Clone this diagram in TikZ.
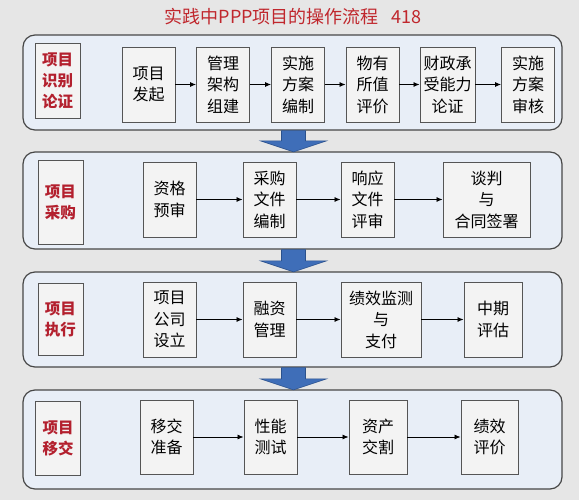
\documentclass[tikz,border=0pt]{standalone}
\usepackage{fontspec}
\newfontfamily\cjk{Noto Sans CJK SC}
\usetikzlibrary{arrows.meta,calc}
\definecolor{bg}{HTML}{E6E6E6}
\definecolor{panelfill}{HTML}{E8EEF7}
\definecolor{paneldraw}{HTML}{474747}
\definecolor{boxfill}{HTML}{F3F3F3}
\definecolor{boxdraw}{HTML}{555555}
\definecolor{labred}{HTML}{B3202E}
\definecolor{titlered}{HTML}{C0272D}
\definecolor{arrowblue}{HTML}{3F6EB8}
\definecolor{arrowedge}{HTML}{2B518C}
\tikzset{
  panel/.style={draw=paneldraw,fill=panelfill,line width=1.2pt,rounded corners=12pt,minimum width=539pt,inner sep=0pt},
  labbox/.style={draw=boxdraw,fill=boxfill,line width=0.9pt,minimum width=45pt,inner sep=0pt,align=center,text=labred,font=\cjk\bfseries\fontsize{15.5}{21}\selectfont},
  stepbox/.style={draw=boxdraw,fill=boxfill,line width=0.9pt,minimum height=75pt,inner sep=0pt,align=center,font=\cjk\fontsize{16}{21.5}\selectfont},
  flow/.style={-{Latex[length=6pt,width=5pt]},line width=0.8pt,black},
  bigarrow/.style={fill=arrowblue,draw=arrowedge,line width=0.6pt,line join=miter}
}
\begin{document}
\begin{tikzpicture}[x=1pt,y=-1pt]
\fill[bg] (0,0) rectangle (579,500);
\useasboundingbox (0,0) rectangle (579,500);

\node[text=titlered,font=\cjk\fontsize{18}{20}\selectfont] (title) at (293,17) {实践中PPP项目的操作流程\hspace{0.7em}418};

% panels
\node[panel,minimum height=95pt] (p1) at (292.5,82.5) {};
\node[panel,minimum height=97pt] (p2) at (292.5,200.5) {};
\node[panel,minimum height=95pt] (p3) at (292.5,319.5) {};
\node[panel,minimum height=99pt] (p4) at (292.5,439.5) {};

% big arrows
\foreach \a/\b in {p1/p2,p2/p3,p3/p4}{
  \draw[bigarrow] ($(\a.south)+(-11,0)$) -- ($(\b.north)+(-11,-10.5)$) -- ($(\b.north)+(-32,-10.5)$)
    -- ($(\b.north)+(1,0.5)$) -- ($(\b.north)+(34,-10.5)$) -- ($(\b.north)+(13,-10.5)$)
    -- ($(\a.south)+(13,0)$) -- cycle;
}

% panel 1
\node[labbox,minimum height=75pt] (l1) at (57.5,80.5) {项目\\识别\\论证};
\node[stepbox,minimum width=53pt] (s11) at (148.5,84.5) {项目\\发起};
\node[stepbox,minimum width=53pt] (s12) at (223,84.5) {管理\\架构\\组建};
\node[stepbox,minimum width=53pt] (s13) at (298,84.5) {实施\\方案\\编制};
\node[stepbox,minimum width=53pt] (s14) at (372.5,84.5) {物有\\所值\\评价};
\node[stepbox,minimum width=55pt] (s15) at (447.5,84.5) {财政承\\受能力\\论证};
\node[stepbox,minimum width=53pt] (s16) at (528,84.5) {实施\\方案\\审核};
\draw[flow] (s11) -- (s12);
\draw[flow] (s12) -- (s13);
\draw[flow] (s13) -- (s14);
\draw[flow] (s14) -- (s15);
\draw[flow] (s15) -- (s16);

% panel 2
\node[labbox,minimum height=84pt] (l2) at (60.5,202) {项目\\采购};
\node[stepbox,minimum width=53pt] (s21) at (169.5,199.5) {资格\\预审};
\node[stepbox,minimum width=53pt] (s22) at (269.5,199.5) {采购\\文件\\编制};
\node[stepbox,minimum width=53pt] (s23) at (367.5,199.5) {响应\\文件\\评审};
\node[stepbox,minimum width=87pt] (s24) at (486.5,199.5) {谈判\\与\\合同签署};
\draw[flow] (s21) -- (s22);
\draw[flow] (s22) -- (s23);
\draw[flow] (s23) -- (s24);

% panel 3
\node[labbox,minimum height=72pt] (l3) at (60.5,319) {项目\\执行};
\node[stepbox,minimum width=53pt] (s31) at (169.5,319.5) {项目\\公司\\设立};
\node[stepbox,minimum width=53pt] (s32) at (269.5,319.5) {融资\\管理};
\node[stepbox,minimum width=80pt] (s33) at (381,319.5) {绩效监测\\与\\支付};
\node[stepbox,minimum width=58pt] (s34) at (493,319.5) {中期\\评估};
\draw[flow] (s31) -- (s32);
\draw[flow] (s32) -- (s33);
\draw[flow] (s33) -- (s34);

% panel 4
\node[labbox,minimum height=74pt] (l4) at (58,438) {项目\\移交};
\node[stepbox,minimum width=53pt,minimum height=74pt] (s41) at (166.5,437) {移交\\准备};
\node[stepbox,minimum width=53pt,minimum height=74pt] (s42) at (270.5,437) {性能\\测试};
\node[stepbox,minimum width=58pt,minimum height=74pt] (s43) at (378,437) {资产\\交割};
\node[stepbox,minimum width=57pt,minimum height=74pt] (s44) at (489.5,437) {绩效\\评价};
\draw[flow] (s41) -- (s42);
\draw[flow] (s42) -- (s43);
\draw[flow] (s43) -- (s44);
\end{tikzpicture}
\end{document}
